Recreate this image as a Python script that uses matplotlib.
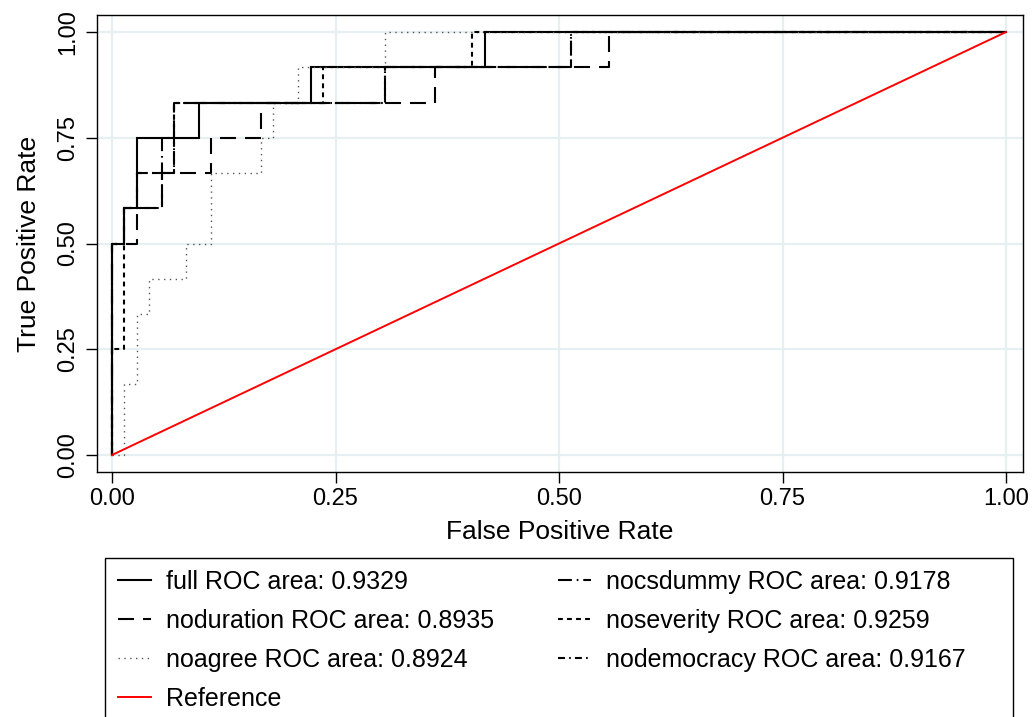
import matplotlib
matplotlib.use("Agg")
import matplotlib.pyplot as plt
from matplotlib.patches import Rectangle

plt.rcParams['font.family'] = ['Liberation Sans', 'DejaVu Sans']
plt.rcParams['lines.scale_dashes'] = False

# ROC step corners (false positive rate, true positive rate)
full_fpr = [0, 0, 0.0139, 0.0139, 0.0278, 0.0278, 0.0972, 0.0972, 0.2222, 0.2222, 0.4167, 0.4167, 1]
full_tpr = [0, 0.5, 0.5, 0.5833, 0.5833, 0.75, 0.75, 0.8333, 0.8333, 0.9167, 0.9167, 1, 1]

noduration_fpr = [0, 0, 0.0278, 0.0278, 0.0556, 0.0556, 0.1111, 0.1111, 0.1667, 0.1667, 0.3611, 0.3611, 0.5556, 0.5556, 1]
noduration_tpr = [0, 0.5, 0.5, 0.5833, 0.5833, 0.6667, 0.6667, 0.75, 0.75, 0.8333, 0.8333, 0.9167, 0.9167, 1, 1]

noagree_fpr = [0, 0.0139, 0.0139, 0.0278, 0.0278, 0.0417, 0.0417, 0.0833, 0.0833, 0.1111, 0.1111,
               0.1667, 0.1667, 0.1806, 0.1806, 0.2083, 0.2083, 0.3056, 0.3056, 1]
noagree_tpr = [0, 0, 0.1667, 0.1667, 0.3333, 0.3333, 0.4167, 0.4167, 0.5, 0.5, 0.6667,
               0.6667, 0.75, 0.75, 0.8333, 0.8333, 0.9167, 0.9167, 1, 1]

nocsdummy_fpr = [0, 0, 0.0139, 0.0139, 0.0278, 0.0278, 0.0556, 0.0556, 0.0694, 0.0694, 0.3056, 0.3056, 0.5139, 0.5139, 1]
nocsdummy_tpr = [0, 0.5, 0.5, 0.5833, 0.5833, 0.6667, 0.6667, 0.75, 0.75, 0.8333, 0.8333, 0.9167, 0.9167, 1, 1]

noseverity_fpr = [0, 0, 0.0139, 0.0139, 0.0556, 0.0556, 0.0694, 0.0694, 0.2361, 0.2361, 0.4028, 0.4028, 1]
noseverity_tpr = [0, 0.25, 0.25, 0.5833, 0.5833, 0.6667, 0.6667, 0.8333, 0.8333, 0.9167, 0.9167, 1, 1]

nodemocracy_fpr = [0, 0, 0.0139, 0.0139, 0.0278, 0.0278, 0.0694, 0.0694, 0.3056, 0.3056, 0.5139, 0.5139, 1]
nodemocracy_tpr = [0, 0.5, 0.5, 0.5833, 0.5833, 0.6667, 0.6667, 0.8333, 0.8333, 0.9167, 0.9167, 1, 1]

reference_x = [0, 1]
reference_y = [0, 1]

labels = ["full ROC area: 0.9329", "noduration ROC area: 0.8935", "noagree ROC area: 0.8924",
          "nocsdummy ROC area: 0.9178", "noseverity ROC area: 0.9259", "nodemocracy ROC area: 0.9167",
          "Reference"]
ticks = [0, 0.25, 0.5, 0.75, 1.0]
tick_labels = ["0.00", "0.25", "0.50", "0.75", "1.00"]

W, H = 1036, 717
fig = plt.figure(figsize=(W / 100, H / 100), dpi=100)
ax = fig.add_axes([97 / W, 1 - 472.3 / H, (1022.7 - 97) / W, (472.3 - 15) / H])

lw = 1.5
l_full, = ax.plot(full_fpr, full_tpr, color='black', lw=lw, solid_joinstyle='miter')
l_dur, = ax.plot(noduration_fpr, noduration_tpr, color='black', lw=lw, dashes=(11.5, 6.5))
l_agr, = ax.plot(noagree_fpr, noagree_tpr, color='#555555', lw=1.0, dashes=(1.0, 3.2))
l_cs, = ax.plot(nocsdummy_fpr, nocsdummy_tpr, color='black', lw=lw, dashes=(10, 3.5, 1.2, 3.5))
l_sev, = ax.plot(noseverity_fpr, noseverity_tpr, color='black', lw=lw, dashes=(3.5, 3))
l_dem, = ax.plot(nodemocracy_fpr, nodemocracy_tpr, color='black', lw=lw, dashes=(5, 3, 1.2, 3))
l_ref, = ax.plot(reference_x, reference_y, color='#ff0000', lw=1.4)

ax.set_xlim(-15 / 894, 1 + 16.7 / 894)
ax.set_ylim(-17.3 / 423, 1 + 17 / 423)
ax.set_xticks(ticks)
ax.set_xticklabels(tick_labels)
ax.set_yticks(ticks)
ax.set_yticklabels(tick_labels, rotation=90, va='center')
ax.tick_params(axis='both', direction='out', length=8, width=1, labelsize=17, color='black')
ax.tick_params(axis='x', pad=3)
ax.tick_params(axis='y', pad=5)
ax.grid(True, color='#e6eff1', lw=1.6)
ax.set_axisbelow(True)
for s in ax.spines.values():
    s.set_color('black')
    s.set_linewidth(1.0)

ax.set_xlabel("False Positive Rate", fontsize=19, labelpad=7.5)
ax.set_ylabel("True Positive Rate", fontsize=19, labelpad=11.5)

# legend frame (extends below the figure edge)
rect = Rectangle((105 / W, 1 - 740 / H), (1013 - 105) / W, (740 - 558) / H,
                 transform=fig.transFigure, fill=False, edgecolor='black', lw=1.0, clip_on=False)
fig.add_artist(rect)

handles = [l_full, l_dur, l_agr, l_ref, l_cs, l_sev, l_dem]
leg_labels = [labels[0], labels[1], labels[2], labels[6], labels[3], labels[4], labels[5]]
fig.legend(handles, leg_labels, loc='upper left', bbox_to_anchor=(118 / W, 1 - 570 / H),
           ncol=2, frameon=False, fontsize=18, handlelength=1.3, handletextpad=0.6,
           columnspacing=2.58, labelspacing=0.6, borderpad=0, borderaxespad=0)

fig.savefig("out.png", dpi=100)
